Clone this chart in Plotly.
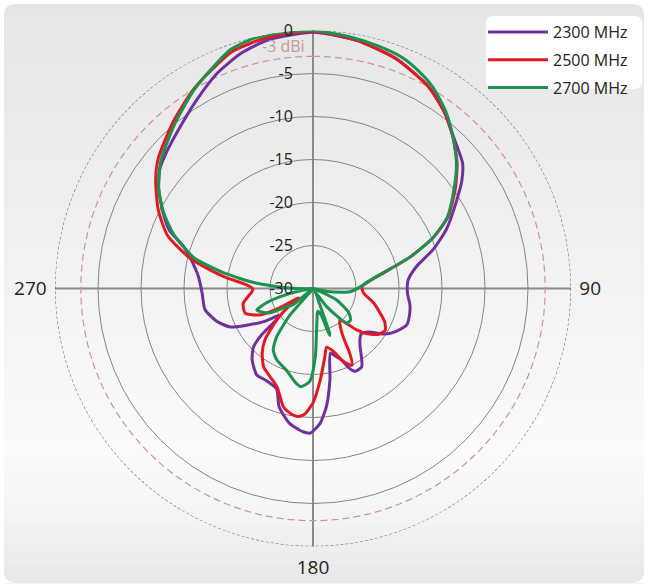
import plotly.graph_objects as go

W, H = 648, 587

# Radiation pattern series (angle in degrees clockwise from 0, gain in dBi, floor at -30)
labels = ["2300 MHz", "2500 MHz", "2700 MHz"]
colors = ["#7030A0", "#E3191F", "#1C9150"]

theta_2300 = [0, 10, 20, 30, 37, 43, 50, 54, 59, 66, 72, 78, 85, 93, 99, 104, 111, 117, 120, 123,
              128, 133, 137, 141, 148, 153, 156, 158, 161, 165, 169.5, 173.5, 177, 181, 184, 190,
              196, 200, 207, 213, 220.5, 225.5, 228, 229, 231, 236, 241, 245, 251, 259, 267.5,
              276, 283, 288, 292, 297, 303, 308, 314, 321, 328, 336, 343, 350, 360]
gain_2300 = [-0.2, -0.7, -1.6, -3.0, -4.5, -6.0, -7.3, -8.6, -10.6, -13.0, -15.3, -17.7, -18.9, -19.0,
             -18.6, -18.4, -18.3, -19.1, -19.6, -20.3, -21.8, -22.3, -22.0, -21.3, -19.3, -19.2,
             -20.0, -21.0, -21.6, -22.2, -19.2, -16.2, -14.3, -13.2, -13.3, -14.1, -15.7, -17.6,
             -18.0, -18.0, -19.1, -20.3, -22.0, -23.9, -25.1, -23.1, -21.2, -19.4, -18.2, -17.2,
             -17.1, -16.6, -15.5, -14.2, -12.0, -10.4, -8.6, -7.4, -6.6, -5.6, -4.3, -2.6, -1.4,
             -0.6, -0.2]

theta_2500 = [0, 10, 20, 30, 37, 43, 49, 55, 62, 67, 72, 77.5, 83, 88, 95, 103, 110, 115, 120, 125,
              130, 133.5, 139, 143, 148, 150.5, 153, 157.5, 162, 167, 170, 175.5, 180, 184, 187,
              190, 194, 200, 206, 212, 218, 223, 229, 234, 237, 240, 243.5, 250, 258, 263, 267,
              270, 274, 277, 280, 284, 290, 297, 304.5, 310, 320, 329, 335, 341, 350, 360]
gain_2500 = [-0.1, -0.7, -1.6, -3.0, -4.5, -6.1, -7.8, -9.8, -12.2, -14.8, -18.1, -21.6, -23.5, -24.3,
             -24.1, -22.8, -21.7, -20.8, -20.3, -20.7, -21.8, -23.0, -25.2, -24.8, -23.4, -21.3,
             -20.0, -20.8, -22.3, -23.0, -22.0, -19.3, -16.7, -15.3, -15.0, -15.2, -15.8, -17.8,
             -18.6, -19.2, -20.4, -21.8, -24.4, -26.7, -28.0, -25.5, -23.1, -21.6, -21.7, -22.4,
             -22.9, -23.0, -21.9, -19.9, -18.0, -15.2, -12.0, -9.8, -7.8, -6.5, -4.7, -3.0, -2.0,
             -0.9, -0.3, -0.1]

theta_2700 = [0, 8, 15, 21, 26, 31, 37, 43, 49, 55, 62, 67, 72, 77.5, 83, 88, 95, 101, 106, 110, 113,
              116, 124, 130, 136, 143, 148, 152, 156, 159.5, 160.5, 163, 168, 170, 175, 178, 182,
              187, 190, 198, 207, 213, 217, 221, 226, 231, 235, 241, 249, 253, 256, 260, 264, 268,
              271, 275.5, 280, 284.5, 291, 297, 303, 310, 320, 329, 335, 341, 347, 353, 360]
gain_2700 = [0.0, -0.4, -0.8, -1.2, -1.9, -2.8, -4.3, -6.1, -7.9, -10.0, -12.3, -14.8, -18.1, -21.7,
             -23.6, -24.5, -25.7, -28.0, -30.0, -30.0, -29.0, -26.9, -25.0, -24.3, -24.4, -27.4,
             -29.5, -29.0, -28.5, -24.5, -24.2, -26.8, -27.3, -27.1, -25.2, -22.1, -19.2, -18.5,
             -18.8, -20.0, -20.7, -21.5, -23.0, -26.0, -30.0, -27.0, -26.3, -24.1, -23.0, -24.4,
             -26.0, -28.5, -30.0, -29.5, -27.2, -23.3, -19.4, -15.7, -12.7, -10.5, -8.6, -6.9,
             -5.0, -3.1, -1.9, -0.6, -0.1, 0.0, 0.0]

series = [(theta_2300, gain_2300), (theta_2500, gain_2500), (theta_2700, gain_2700)]

radial_ticks = [-30, -25, -20, -15, -10, -5, 0]
radial_text = ["-30", "-25", "-20", "-15", "-10", "-5", "0"]
angle_ticks = [0, 90, 180, 270]
angle_text = ["", "90", "180", "270"]
half_power = -3
ring_angles = list(range(0, 361, 2))

FONT = "Open Sans"


def px(x):
    return x / W


def py(y):
    return 1 - y / H


fig = go.Figure()

# reference rings: 0 dB outer ring and the -3 dBi half-power ring
fig.add_trace(go.Scatterpolar(
    theta=ring_angles, r=[0] * len(ring_angles), mode="lines",
    line=dict(color="#6f6f6f", width=1.2, dash="3px,2px"),
    hoverinfo="skip", showlegend=False))
fig.add_trace(go.Scatterpolar(
    theta=ring_angles, r=[half_power] * len(ring_angles), mode="lines",
    line=dict(color="#c99494", width=1.2, dash="7px,4px"),
    hoverinfo="skip", showlegend=False))

for name, color, (th, g) in zip(labels, colors, series):
    fig.add_trace(go.Scatterpolar(
        theta=th, r=g, mode="lines", name=name, legendgroup=name,
        line=dict(color=color, width=3, shape="spline", smoothing=0.6)))

# panel background: soft vertical gradient in a rounded frame
shapes = []
x0, x1, y0, y1 = 4, 644, 4, 583
stops = [(4, (230, 230, 230)), (150, (236, 236, 236)), (300, (243, 243, 243)),
         (450, (251, 251, 251)), (500, (246, 246, 246)), (583, (232, 232, 232))]
n = 60
for i in range(n):
    ya = y0 + (y1 - y0) * i / n
    yb = y0 + (y1 - y0) * (i + 1) / n
    ym = (ya + yb) / 2
    for (sa, ca), (sb, cb) in zip(stops[:-1], stops[1:]):
        if sa <= ym <= sb:
            t = (ym - sa) / (sb - sa)
            c = tuple(round(ca[k] + (cb[k] - ca[k]) * t) for k in range(3))
            break
    shapes.append(dict(type="rect", xref="paper", yref="paper", layer="below",
                       x0=px(x0), x1=px(x1), y0=py(yb + 0.6), y1=py(ya),
                       fillcolor="rgb(%d,%d,%d)" % c, line=dict(width=0)))

rc = 12
for cx, cy, sx, sy in [(x0, y0, 1, 1), (x1, y0, -1, 1), (x0, y1, 1, -1), (x1, y1, -1, -1)]:
    path = "M %f,%f L %f,%f Q %f,%f %f,%f Z" % (
        px(cx), py(cy), px(cx + sx * rc), py(cy), px(cx), py(cy), px(cx), py(cy + sy * rc))
    shapes.append(dict(type="path", xref="paper", yref="paper", layer="below", path=path,
                       fillcolor="white", line=dict(width=0)))

# legend box with rounded corners
lx0, lx1, ly0, ly1, lr = 486, 642, 16, 89, 8
lpath = ("M %f,%f L %f,%f Q %f,%f %f,%f L %f,%f Q %f,%f %f,%f L %f,%f Q %f,%f %f,%f "
         "L %f,%f Q %f,%f %f,%f Z") % (
    px(lx0 + lr), py(ly0), px(lx1 - lr), py(ly0), px(lx1), py(ly0), px(lx1), py(ly0 + lr),
    px(lx1), py(ly1 - lr), px(lx1), py(ly1), px(lx1 - lr), py(ly1),
    px(lx0 + lr), py(ly1), px(lx0), py(ly1), px(lx0), py(ly1 - lr),
    px(lx0), py(ly0 + lr), px(lx0), py(ly0), px(lx0 + lr), py(ly0))
shapes.append(dict(type="path", xref="paper", yref="paper", layer="below", path=lpath,
                   fillcolor="white", line=dict(width=0)))

cx_px, cy_px, R_px = 313, 288.5, 258

fig.update_layout(
    width=W, height=H,
    margin=dict(l=0, r=0, t=0, b=0),
    paper_bgcolor="white",
    font=dict(family=FONT, color="#222222"),
    shapes=shapes,
    polar=dict(
        domain=dict(x=[px(cx_px - R_px), px(cx_px + R_px)],
                    y=[py(cy_px + R_px), py(cy_px - R_px)]),
        bgcolor="rgba(0,0,0,0)",
        radialaxis=dict(
            range=[-30, 0], tickmode="array", tickvals=radial_ticks, ticktext=radial_text,
            angle=90, side="counterclockwise", showline=False, tickangle=90,
            ticks="outside", ticklen=14, tickcolor="rgba(0,0,0,0)",
            showgrid=True, gridcolor="#858585", gridwidth=1,
            tickfont=dict(size=16, color="#222222", family=FONT)),
        angularaxis=dict(
            rotation=90, direction="clockwise", tickmode="array",
            tickvals=angle_ticks, ticktext=angle_text,
            showline=False, showgrid=True, gridcolor="#8a8a8a", gridwidth=1.6,
            ticks="outside", ticklen=4, tickcolor="rgba(0,0,0,0)",
            tickfont=dict(size=19, color="#222222", family=FONT)),
    ),
    legend=dict(
        x=px(483), y=py(15), xanchor="left", yanchor="top",
        bgcolor="rgba(0,0,0,0)", borderwidth=0,
        font=dict(size=16, family=FONT, color="#222222"),
        itemwidth=60, tracegroupgap=4),
    annotations=[dict(
        text="-3 dBi", x=px(307), y=py(46), xref="paper", yref="paper",
        xanchor="right", yanchor="middle", showarrow=False,
        font=dict(size=16, color="#c49a9a", family=FONT))],
)

fig.write_html("out.html")
